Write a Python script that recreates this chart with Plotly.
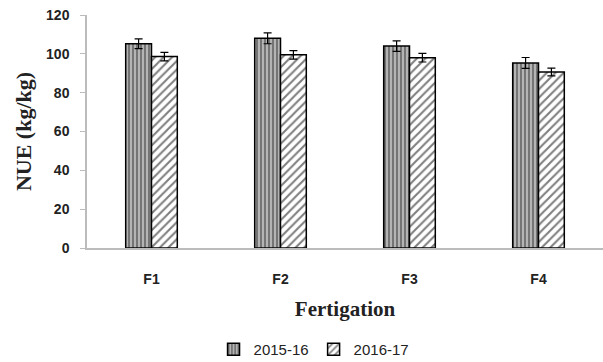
import plotly.graph_objects as go

categories = ["F1", "F2", "F3", "F4"]
nue_2015 = [105.2, 108.0, 104.0, 95.3]
err_2015 = [2.5, 2.8, 2.7, 2.8]
nue_2016 = [98.6, 99.5, 98.0, 90.6]
err_2016 = [2.2, 2.2, 2.2, 2.0]

fig = go.Figure()
fig.add_trace(go.Bar(
    x=categories, y=nue_2015, name="2015-16",
    error_y=dict(type="data", array=err_2015, color="black", thickness=1.2, width=4),
    marker=dict(color="#a0a0a0", line=dict(color="black", width=1.5),
                pattern=dict(shape="|", fgcolor="black", bgcolor="#b4b4b4", size=4, solidity=0.35)),
))
fig.add_trace(go.Bar(
    x=categories, y=nue_2016, name="2016-17",
    error_y=dict(type="data", array=err_2016, color="black", thickness=1.2, width=4),
    marker=dict(color="white", line=dict(color="black", width=1.5),
                pattern=dict(shape="/", fgcolor="black", bgcolor="white", size=6, solidity=0.35)),
))

fig.update_layout(
    width=603, height=362,
    margin=dict(l=87, r=0, t=15, b=114, autoexpand=False),
    paper_bgcolor="white", plot_bgcolor="white",
    barmode="group", bargap=0.6, bargroupgap=0,
    font=dict(family="Liberation Sans, Arial", color="#222"),
    showlegend=True,
    legend=dict(orientation="h", x=0.44, xanchor="center", y=-0.365, yanchor="top",
                font=dict(size=15, family="Liberation Sans, Arial"), traceorder="normal",
                itemwidth=30),
    xaxis=dict(
        range=[-0.5, 3.5],
        showline=True, linecolor="#bcbcbc", linewidth=1.5,
        ticks="", tickfont=dict(size=14, family="Liberation Sans, Arial", weight="bold"),
        ticklabelstandoff=17,
        title=dict(text="<b>Fertigation</b>", font=dict(size=21, family="Liberation Serif, Times New Roman"), standoff=16),
    ),
    yaxis=dict(
        range=[0, 120], dtick=20, showgrid=False, zeroline=False,
        showline=True, linecolor="#bcbcbc", linewidth=1.5,
        ticks="outside", ticklen=5, tickcolor="#bcbcbc",
        tickfont=dict(size=14, family="Liberation Sans, Arial", weight="bold"),
        ticklabelstandoff=8,
        title=dict(text="<b>NUE (kg/kg)</b>", font=dict(size=22, family="Liberation Serif, Times New Roman"), standoff=8),
    ),
)

fig.write_html("out.html", config={"displayModeBar": False},
               post_script="document.body.style.margin='0';document.body.style.padding='0';")
